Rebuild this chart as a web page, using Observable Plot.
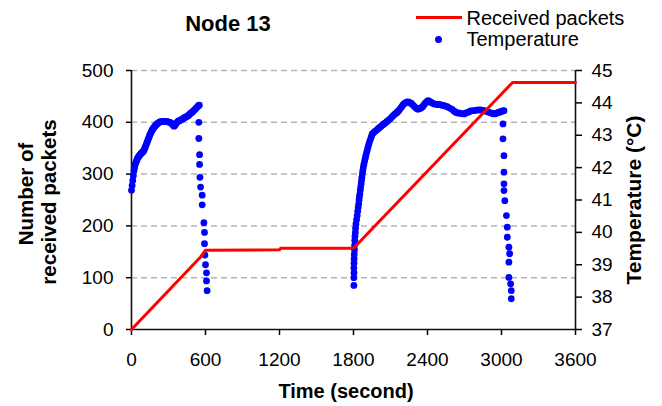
<!DOCTYPE html>
<html><head><meta charset="utf-8">
<script src="https://cdn.jsdelivr.net/npm/d3@7"></script>
<script src="https://cdn.jsdelivr.net/npm/@observablehq/plot@0.6"></script>
<style>
body{margin:0;background:#fff;}
#wrap{position:relative;width:662px;height:406px;font-family:"Liberation Sans",Arial,sans-serif;color:#000;overflow:hidden;}
#wrap svg{position:absolute;left:0;top:0;}
.lbl{position:absolute;white-space:nowrap;line-height:1;}
.bold{font-weight:bold;}
</style></head><body>
<div id="wrap"></div>
<script>
// Axis ticks
const timeTicks = [0, 600, 1200, 1800, 2400, 3000, 3600];
const packetTicks = [0, 100, 200, 300, 400, 500];
const tempTicks = [37, 38, 39, 40, 41, 42, 43, 44, 45];

// Received packets (cumulative count vs time in seconds)
const packetTime  = [0, 560, 600, 1200, 1210, 1800, 3090, 3600];
const packetCount = [0, 140, 153, 154, 157, 157, 477, 477];

// Temperature samples (time in seconds, °C)
const tempTime = [
  0, 5, 10, 15, 20, 25, 30, 40, 50, 60, 70, 80, 90, 100, 110, 120, 130, 140, 150, 160,
  170, 180, 190, 200, 215, 230, 250, 270, 290, 310, 330, 345, 360, 375, 390, 405, 420, 435, 450, 465,
  480, 495, 510, 525, 540, 550,
  35, 45, 55, 65, 75, 85, 95, 105, 115, 125, 135, 145, 155, 165, 175, 185, 195, 207, 222, 240,
  260, 280, 300, 320, 338, 352, 368, 382, 398, 412, 428, 442, 458, 472, 488, 502, 518, 532, 545,
  546, 546, 552, 552, 555, 560, 573, 573, 587, 592, 592, 595, 600, 608, 608, 613,
  1803, 1803, 1803, 1805, 1808, 1810, 1815, 1820, 1830, 1838, 1845, 1852, 1858, 1865, 1872, 1879, 1890, 1900,
  1912, 1925, 1940, 1952, 1975, 2000, 2025, 2046, 2070, 2095, 2120, 2140, 2155, 2175, 2195, 2209, 2230, 2249,
  2270, 2290, 2317, 2340, 2360, 2380, 2404, 2425, 2450, 2480, 2506, 2530, 2560, 2600, 2628, 2660, 2696, 2720,
  2750, 2790, 2830, 2860, 2890, 2920, 2939, 2960, 2980, 3000, 3020,
  1804, 1804, 1806, 1809, 1812, 1817, 1825, 1834, 1842, 1848, 1855, 1862, 1868, 1875, 1884, 1895, 1906, 1918,
  1932, 1946, 1963, 1988, 2012, 2036, 2058, 2082, 2108, 2130, 2148, 2165, 2185, 2202, 2220, 2240, 2260, 2280,
  2303, 2328, 2350, 2370, 2392, 2415, 2438, 2465, 2493, 2518, 2545, 2580, 2614, 2644, 2678, 2708, 2735, 2770,
  2810, 2845, 2875, 2905, 2930, 2950, 2970, 2990, 3010,
  3012, 3012, 3020, 3020, 3020, 3020, 3027, 3040, 3047, 3047, 3060, 3066, 3060, 3060, 3074, 3079, 3079
];
const tempValue = [
  41.3, 41.45, 41.6, 41.75, 41.9, 42.0, 42.1, 42.2, 42.3, 42.35, 42.4, 42.45, 42.48, 42.52, 42.62, 42.72, 42.82, 42.92, 43.02, 43.1,
  43.17, 43.23, 43.28, 43.32, 43.37, 43.41, 43.43, 43.42, 43.42, 43.4, 43.35, 43.28, 43.35, 43.42, 43.45, 43.48, 43.52, 43.55, 43.58, 43.62,
  43.68, 43.72, 43.78, 43.84, 43.9, 43.93,
  42.15, 42.25, 42.32, 42.38, 42.42, 42.46, 42.5, 42.57, 42.67, 42.77, 42.87, 42.97, 43.06, 43.14, 43.2, 43.26, 43.3, 43.35, 43.39, 43.42,
  43.43, 43.42, 43.41, 43.38, 43.31, 43.3, 43.39, 43.44, 43.47, 43.5, 43.54, 43.57, 43.6, 43.65, 43.7, 43.75, 43.81, 43.87, 43.92,
  43.4, 42.9, 42.4, 42.1, 41.7, 41.4, 41.15, 40.85, 40.3, 40.0, 39.65, 39.3, 39.0, 38.75, 38.5, 38.2,
  38.36, 38.6, 38.9, 39.18, 39.46, 39.75, 40.0, 40.26, 40.52, 40.77, 41.0, 41.19, 41.4, 41.6, 41.8, 42.0, 42.2, 42.37,
  42.55, 42.73, 42.9, 43.04, 43.12, 43.2, 43.28, 43.35, 43.42, 43.5, 43.6, 43.67, 43.71, 43.8, 43.9, 43.97, 44.02, 44.02,
  43.98, 43.9, 43.81, 43.83, 43.88, 43.98, 44.07, 44.02, 43.97, 43.95, 43.94, 43.92, 43.88, 43.8, 43.71, 43.68, 43.66, 43.7,
  43.75, 43.77, 43.78, 43.76, 43.72, 43.68, 43.66, 43.68, 43.71, 43.74, 43.76,
  38.75, 39.05, 39.32, 39.6, 39.88, 40.13, 40.39, 40.65, 40.88, 41.1, 41.3, 41.5, 41.7, 41.9, 42.1, 42.28, 42.46, 42.64,
  42.82, 42.97, 43.08, 43.16, 43.24, 43.32, 43.38, 43.46, 43.55, 43.63, 43.69, 43.75, 43.85, 43.94, 44.0, 44.03, 44.0, 43.94,
  43.85, 43.81, 43.85, 43.93, 44.03, 44.05, 44.0, 43.96, 43.95, 43.93, 43.9, 43.84, 43.75, 43.69, 43.67, 43.68, 43.72, 43.76,
  43.78, 43.77, 43.74, 43.7, 43.67, 43.67, 43.7, 43.72, 43.75,
  43.35, 42.89, 42.37, 41.86, 41.5, 41.29, 40.98, 40.52, 40.16, 39.85, 39.54, 39.34, 39.08, 38.61, 38.41, 38.2, 37.95
];

// map temperature onto the packet (left) scale: 37..45 -> 0..500
const toY = t => (t - 37) * 500 / 8;
const fromY = y => 37 + y * 8 / 500;

const plot = Plot.plot({
  width: 662,
  height: 406,
  marginLeft: 131,
  marginRight: 87,
  marginTop: 70,
  marginBottom: 77,
  style: {fontFamily: '"Liberation Sans", Arial, sans-serif', fontSize: "19px", color: "#000", background: "transparent", overflow: "visible"},
  x: {domain: [0, 3600]},
  y: {domain: [0, 500]},
  marks: [
    Plot.gridY({ticks: packetTicks.slice(1), stroke: "#b4b4b4", strokeOpacity: 1, strokeWidth: 1.5, strokeDasharray: "6,4"}),
    Plot.axisY({ticks: packetTicks, anchor: "left", tickSize: 5, tickPadding: 13, label: null, fontSize: 19, strokeWidth: 1.5}),
    Plot.axisY({ticks: tempTicks.map(toY), anchor: "right", tickSize: 6, tickPadding: 10, label: null, fontSize: 19, strokeWidth: 1.5,
      tickFormat: d => String(Math.round(fromY(d)))}),
    Plot.axisX({ticks: timeTicks, anchor: "bottom", tickSize: 6, tickPadding: 17, label: null, fontSize: 19, strokeWidth: 1.5,
      tickFormat: d => String(d)}),
    Plot.ruleX([0, 3600], {stroke: "#111", strokeWidth: 1.6}),
    Plot.ruleY([0], {stroke: "#111", strokeWidth: 1.6}),
    Plot.dot(tempTime, {x: tempTime, y: tempValue.map(toY), r: 3.4, fill: "#0000ff", stroke: null}),
    Plot.line(packetTime, {x: packetTime, y: packetCount, stroke: "#ff0000", strokeWidth: 3})
  ]
});

const wrap = document.getElementById("wrap");
wrap.appendChild(plot);

function addLabel(text, cls, css) {
  const d = document.createElement("div");
  d.className = "lbl " + cls;
  d.textContent = text;
  Object.assign(d.style, css);
  wrap.appendChild(d);
  return d;
}
// Title
addLabel("Node 13", "bold", {fontSize: "22px", left: "228px", top: "13px", transform: "translateX(-50%)"});
// X title
addLabel("Time (second)", "bold", {fontSize: "20px", left: "346px", top: "381px", transform: "translateX(-50%)"});
// Left Y title (two lines)
addLabel("Number of", "bold", {fontSize: "20.5px", left: "26px", top: "194px", transform: "translate(-50%,-50%) rotate(-90deg)"});
addLabel("received packets", "bold", {fontSize: "20.5px", left: "49px", top: "202px", transform: "translate(-50%,-50%) rotate(-90deg)"});
// Right Y title
addLabel("Temperature (°C)", "bold", {fontSize: "21px", left: "633px", top: "200px", transform: "translate(-50%,-50%) rotate(-90deg)"});

// Legend
const sw1 = document.createElement("div");
Object.assign(sw1.style, {position: "absolute", left: "416px", top: "15.5px", width: "46px", height: "3px", background: "#ff0000"});
wrap.appendChild(sw1);
const sw2 = document.createElement("div");
Object.assign(sw2.style, {position: "absolute", left: "434.5px", top: "36px", width: "7px", height: "7px", borderRadius: "50%", background: "#0000ff"});
wrap.appendChild(sw2);
addLabel("Received packets", "", {fontSize: "20px", left: "466.5px", top: "8px"});
addLabel("Temperature", "", {fontSize: "20px", left: "466.5px", top: "28.5px"});
</script>
</body></html>
